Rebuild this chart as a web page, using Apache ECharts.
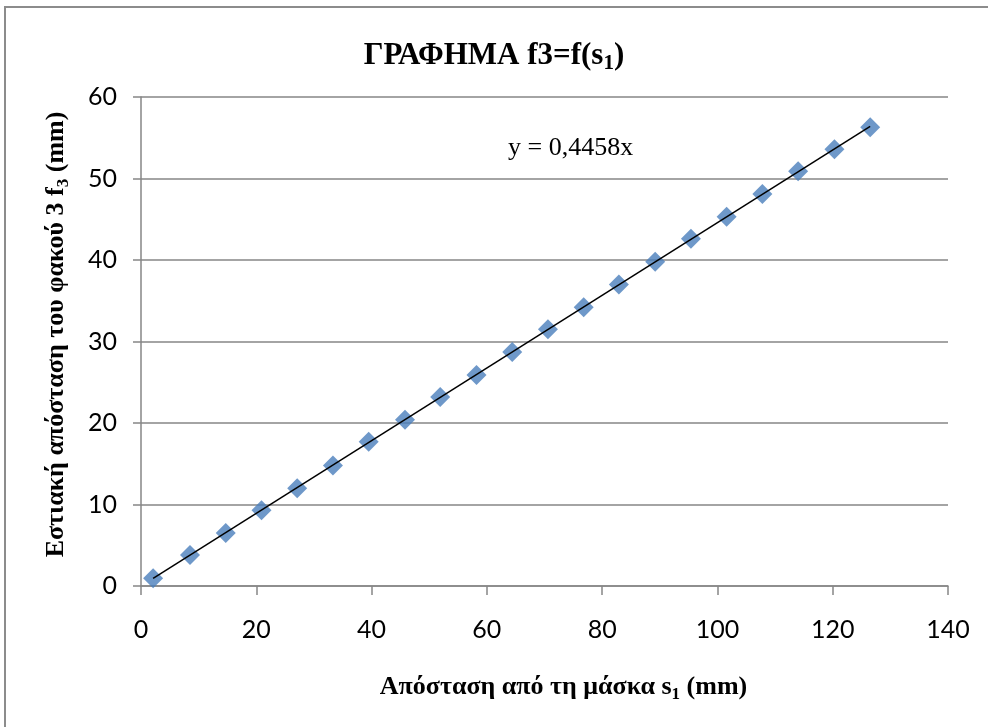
<!DOCTYPE html>
<html>
<head>
<meta charset="utf-8">
<title>ΓΡΑΦΗΜΑ f3=f(s1)</title>
<script src="https://cdn.jsdelivr.net/npm/echarts@6/dist/echarts.min.js"></script>
<style>
  html, body { margin: 0; padding: 0; background: #fff; }
  #chart { width: 988px; height: 727px; }
</style>
</head>
<body>
<div id="chart"></div>
<script>
  // apostasi apo ti maska s1 (mm)
  var s1Values = [2.1, 8.5, 14.7, 20.9, 27.1, 33.3, 39.5, 45.8, 51.9, 58.2, 64.4,
                  70.6, 76.8, 82.9, 89.2, 95.4, 101.6, 107.8, 114.0, 120.3, 126.5];
  // estiaki apostasi f3 (mm)
  var f3Values = [0.95, 3.8, 6.5, 9.3, 12.0, 14.8, 17.7, 20.4, 23.2, 25.9, 28.7,
                  31.5, 34.2, 37.0, 39.8, 42.6, 45.3, 48.1, 50.9, 53.6, 56.3];
  var trendSlope = 0.4458;
  var xTicks = [0, 20, 40, 60, 80, 100, 120, 140];
  var yTicks = [0, 10, 20, 30, 40, 50, 60];

  var points = s1Values.map(function (x, i) { return [x, f3Values[i]]; });
  var xFirst = s1Values[0], xLast = s1Values[s1Values.length - 1];
  var trendLine = [[xFirst, trendSlope * xFirst], [xLast, trendSlope * xLast]];

  var serif = '"Liberation Serif", "Times New Roman", serif';
  var sans = 'Lato, "Open Sans", sans-serif';
  var grey = '#868686';
  var subStyle = {fontFamily: serif, fontWeight: 'bold', fontSize: 17, color: '#000', padding: [14, 0, 0, 0]};

  var myChart = echarts.init(document.getElementById('chart'));
  myChart.setOption({
    backgroundColor: '#fff',
    animation: false,
    graphic: [{
      type: 'rect',
      shape: {x: 5, y: 7, width: 1200, height: 900},
      style: {fill: 'none', stroke: '#8c8c8c', lineWidth: 2},
      silent: true
    }],
    title: [{
      text: 'ΓΡΑΦΗΜΑ f3=f(s{sub|1})',
      left: 'center',
      top: 32,
      textStyle: {
        fontFamily: serif, fontWeight: 'bold', fontSize: 31, color: '#000',
        rich: {
          sub: {fontFamily: serif, fontWeight: 'bold', fontSize: 21, color: '#000', padding: [16, 0, 0, 0]}
        }
      }
    }, {
      text: 'y = 0,4458x',
      left: 503,
      top: 130,
      textStyle: {fontFamily: serif, fontWeight: 'normal', fontSize: 26, color: '#000'}
    }],
    grid: {left: 141, right: 40, top: 97, bottom: 141},
    xAxis: {
      type: 'value',
      min: xTicks[0],
      max: xTicks[xTicks.length - 1],
      interval: 20,
      name: 'Απόσταση από τη μάσκα s{sub|1} (mm)',
      nameLocation: 'middle',
      nameGap: 86,
      nameTextStyle: {
        fontFamily: serif, fontWeight: 'bold', fontSize: 26, color: '#000',
        padding: [0, 0, 0, 38],
        rich: {sub: subStyle}
      },
      axisLine: {show: true, onZero: false, lineStyle: {color: grey, width: 1.5}},
      axisTick: {show: true, length: 9, lineStyle: {color: grey, width: 1.5}},
      axisLabel: {margin: 31, fontFamily: sans, fontSize: 25, color: '#000'},
      splitLine: {show: false}
    },
    yAxis: {
      type: 'value',
      min: yTicks[0],
      max: yTicks[yTicks.length - 1],
      interval: 10,
      name: 'Εστιακή απόσταση του φακού 3 f{sub|3} (mm)',
      nameLocation: 'middle',
      nameGap: 69,
      nameRotate: 90,
      nameTextStyle: {
        fontFamily: serif, fontWeight: 'bold', fontSize: 26, color: '#000',
        padding: [0, 0, 0, 14],
        rich: {sub: subStyle}
      },
      axisLine: {show: true, onZero: false, lineStyle: {color: grey, width: 1.5}},
      axisTick: {show: true, length: 8, lineStyle: {color: grey, width: 1.5}},
      axisLabel: {margin: 24, fontFamily: sans, fontSize: 25, color: '#000'},
      splitLine: {show: true, lineStyle: {color: grey, width: 1.5}}
    },
    series: [{
      name: 'f3',
      type: 'scatter',
      data: points,
      symbol: 'diamond',
      symbolSize: 20,
      itemStyle: {color: '#4a7ebb'},
      z: 2
    }, {
      name: 'trend',
      type: 'line',
      data: trendLine,
      symbol: 'none',
      lineStyle: {color: '#000', width: 1.5},
      z: 3
    }]
  });
</script>
</body>
</html>
